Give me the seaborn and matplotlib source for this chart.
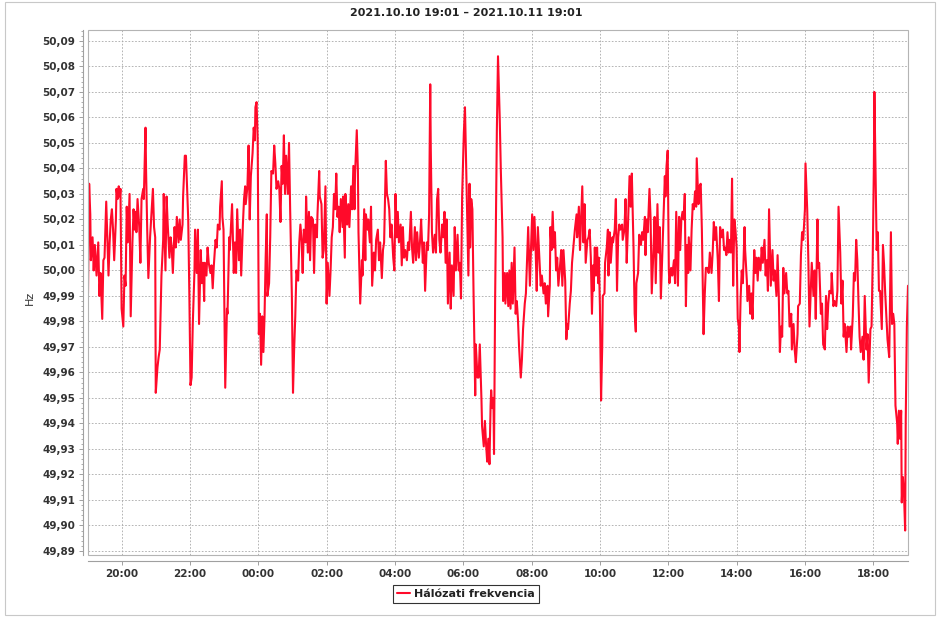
import pandas as pd
import matplotlib
matplotlib.use("Agg")
import matplotlib.pyplot as plt
import matplotlib.dates as mdates
from matplotlib.ticker import MultipleLocator, AutoMinorLocator, FuncFormatter
from matplotlib.patches import Rectangle
import seaborn as sns

# Grid frequency: minutes after 2021.10.10 19:01 and Hz
# 19:01 - 23:00
min_1 = [0, 2, 4, 5, 8, 10, 12, 15, 18, 20, 22, 25, 27, 29, 32, 34, 36, 38, 40, 42,
         44, 46, 49, 50, 52, 54, 56, 57, 59, 62, 64, 66, 68, 70, 73, 75, 78, 80, 82, 84,
         85, 87, 90, 92, 94, 97, 98, 101, 102, 104, 106, 109, 112, 114, 116, 118, 119, 122, 124, 126,
         129, 132, 133, 136, 138, 140, 143, 145, 147, 149, 152, 154, 156, 159, 161, 163, 166, 167, 170, 172,
         174, 176, 178, 180, 182, 184, 187, 188, 191, 193, 195, 198, 200, 202, 204, 205, 208, 210, 212, 215,
         217, 219, 221, 224, 226, 228, 231, 232, 235, 236, 238]
hz_1 = [49.991, 50.034, 50.022, 50.004, 50.013, 50.000, 50.010, 49.998, 50.011, 49.990,
        49.999, 49.981, 50.004, 50.005, 50.027, 50.013, 49.998, 50.011, 50.020, 50.024,
        50.016, 50.004, 50.020, 50.032, 50.028, 50.033, 50.029, 50.032, 49.985, 49.978,
        49.998, 49.994, 50.025, 50.011, 50.030, 49.982, 50.011, 50.024, 50.016, 50.023,
        50.015, 50.028, 50.017, 50.003, 50.028, 50.032, 50.028, 50.056, 50.039, 50.016,
        49.997, 50.013, 50.024, 50.032, 50.017, 50.013, 49.952, 49.962, 49.966, 49.969,
        49.998, 50.012, 50.030, 50.000, 50.029, 50.018, 50.005, 50.013, 50.009, 49.999,
        50.017, 50.009, 50.021, 50.011, 50.020, 50.012, 50.018, 50.029, 50.045, 50.045,
        50.033, 50.020, 49.990, 49.955, 49.958, 49.979, 50.000, 50.016, 49.999, 50.016,
        49.979, 50.008, 49.995, 50.003, 49.988, 50.003, 49.998, 50.009, 50.003, 49.999,
        50.002, 49.993, 50.002, 50.012, 50.009, 50.018, 50.016, 50.025, 50.035, 50.021,
        50.016]

# 23:00 - 02:55
min_2 = [241, 244, 245, 248, 249, 251, 253, 256, 258, 260, 262, 265, 267, 269, 272, 274, 276, 277, 280, 282,
         284, 286, 287, 289, 291, 293, 294, 296, 298, 300, 302, 304, 306, 308, 310, 312, 314, 315, 318, 320,
         322, 325, 327, 329, 331, 334, 336, 338, 340, 342, 344, 346, 348, 351, 353, 355, 358, 360, 362, 364,
         366, 369, 371, 373, 375, 377, 379, 382, 383, 386, 388, 390, 392, 395, 397, 399, 402, 403, 406, 407,
         410, 412, 414, 417, 419, 421, 424, 426, 428, 430, 432, 434, 436, 438, 440, 442, 444, 447, 448, 451,
         452, 455, 457, 459, 462, 464, 466, 468, 469, 472, 474, 475]
hz_2 = [49.954, 49.985, 49.983, 50.013, 50.008, 50.017, 50.026, 49.999, 50.011, 49.999,
        50.024, 50.004, 50.016, 49.998, 50.018, 50.028, 50.033, 50.026, 50.033, 50.049,
        50.020, 50.037, 50.040, 50.046, 50.056, 50.051, 50.064, 50.066, 50.051, 49.975,
        49.983, 49.963, 49.982, 49.968, 49.982, 50.005, 50.022, 49.990, 49.995, 50.013,
        50.039, 50.038, 50.049, 50.042, 50.032, 50.035, 50.032, 50.019, 50.041, 50.034,
        50.053, 50.030, 50.045, 50.030, 50.050, 50.024, 49.990, 49.952, 49.969, 49.982,
        50.000, 49.996, 50.011, 50.018, 50.012, 49.999, 50.016, 50.011, 50.029, 50.007,
        50.023, 50.004, 50.021, 50.020, 49.999, 50.018, 50.013, 50.022, 50.039, 50.029,
        50.026, 50.005, 50.008, 50.033, 49.987, 50.003, 49.990, 50.000, 50.013, 50.017,
        50.030, 50.024, 50.038, 50.021, 50.025, 50.015, 50.028, 50.017, 50.029, 50.005,
        50.030, 50.018, 50.026, 50.017, 50.033, 50.024, 50.041, 50.024, 50.038, 50.055,
        50.039, 50.015]

# 03:00 - 06:55
min_3 = [478, 481, 482, 485, 487, 488, 491, 492, 495, 497, 499, 502, 504, 506, 509, 511, 513, 516, 518, 520,
         523, 525, 527, 529, 531, 533, 536, 538, 540, 542, 544, 546, 549, 551, 553, 555, 557, 560, 562, 564,
         567, 569, 571, 574, 576, 578, 581, 583, 585, 588, 590, 592, 595, 597, 599, 601, 602, 604, 606, 609,
         611, 613, 615, 617, 619, 622, 624, 626, 628, 630, 632, 635, 637, 639, 642, 644, 646, 649, 651, 653,
         655, 657, 660, 662, 664, 666, 668, 670, 671, 673, 675, 677, 680, 681, 684, 686, 688, 691, 692, 695,
         697, 699, 701, 703, 705, 707, 708, 710, 712, 713]
hz_3 = [49.987, 50.004, 49.998, 50.024, 50.004, 50.022, 50.016, 50.020, 50.011, 50.025,
        49.994, 50.007, 50.000, 50.012, 50.016, 50.004, 50.011, 49.997, 50.008, 50.011,
        50.043, 50.030, 50.028, 50.024, 50.013, 50.018, 50.005, 50.000, 50.030, 50.013,
        50.023, 50.011, 50.018, 50.002, 50.017, 50.005, 50.008, 50.004, 50.011, 50.008,
        50.023, 50.009, 50.003, 50.017, 50.004, 50.015, 50.005, 50.011, 50.020, 50.003,
        50.011, 49.992, 50.011, 50.008, 50.022, 50.073, 50.047, 50.015, 50.007, 50.014,
        50.007, 50.028, 50.032, 50.012, 50.007, 50.018, 50.013, 50.023, 50.003, 50.020,
        49.987, 50.007, 49.985, 50.002, 49.990, 50.017, 50.000, 50.014, 50.000, 50.003,
        49.989, 50.029, 50.054, 50.064, 50.042, 50.021, 49.998, 50.034, 50.009, 50.028,
        50.024, 49.992, 49.951, 49.971, 49.958, 49.958, 49.971, 49.949, 49.939, 49.931,
        49.941, 49.932, 49.925, 49.934, 49.924, 49.947, 49.953, 49.946, 49.950, 49.928]

# 06:55 - 10:50
min_4 = [715, 718, 720, 722, 723, 725, 728, 729, 732, 733, 736, 738, 740, 742, 744, 746, 749, 751, 753, 755,
         757, 760, 762, 764, 767, 769, 771, 773, 776, 778, 780, 782, 784, 786, 788, 790, 793, 795, 797, 800,
         802, 804, 807, 808, 811, 812, 814, 816, 818, 820, 822, 824, 826, 829, 831, 833, 835, 838, 840, 842,
         843, 846, 848, 850, 853, 855, 858, 859, 862, 864, 866, 868, 870, 872, 874, 877, 879, 881, 883, 885,
         887, 888, 890, 892, 894, 896, 897, 899, 901, 903, 904, 907, 908, 911, 913, 914, 916, 918, 921, 922,
         925, 927, 929, 931, 933, 935, 938, 939, 942, 944, 946, 948, 951]
hz_4 = [49.990, 50.055, 50.084, 50.068, 50.060, 50.039, 50.013, 49.988, 49.999, 49.987,
        49.999, 49.986, 50.000, 49.985, 50.003, 49.987, 50.009, 49.983, 49.988, 49.981,
        49.970, 49.958, 49.965, 49.977, 49.987, 49.991, 50.004, 50.017, 49.994, 50.009,
        50.022, 50.008, 50.021, 50.009, 49.992, 50.017, 50.003, 49.994, 49.998, 49.991,
        49.995, 49.987, 49.994, 49.982, 49.994, 50.017, 50.008, 50.023, 50.009, 50.015,
        50.000, 50.005, 49.994, 50.002, 50.008, 49.994, 50.008, 49.996, 49.973, 49.979,
        49.977, 49.987, 49.992, 50.003, 50.011, 50.016, 50.022, 50.013, 50.025, 50.008,
        50.021, 50.033, 50.011, 50.026, 50.003, 50.012, 50.013, 50.016, 50.005, 49.983,
        50.002, 49.992, 50.009, 49.998, 50.009, 49.995, 50.005, 49.986, 49.949, 49.970,
        49.990, 49.991, 50.003, 50.009, 50.016, 49.998, 50.015, 50.003, 50.013, 50.011,
        50.016, 50.028, 49.992, 50.013, 50.018, 50.016, 50.018, 50.012, 50.016, 50.028,
        50.003, 50.016, 50.037]

# 10:55 - 14:55
min_5 = [953, 955, 958, 960, 962, 963, 966, 968, 971, 973, 975, 978, 979, 981, 983, 986, 988, 990, 993, 995,
         997, 1000, 1002, 1004, 1006, 1009, 1011, 1013, 1014, 1016, 1018, 1020, 1021, 1024, 1026, 1029, 1031, 1033, 1036, 1038,
         1040, 1042, 1044, 1046, 1048, 1050, 1052, 1054, 1055, 1058, 1060, 1062, 1064, 1066, 1068, 1069, 1072, 1074, 1076, 1078,
         1081, 1083, 1085, 1088, 1090, 1092, 1095, 1097, 1099, 1101, 1103, 1106, 1108, 1110, 1113, 1115, 1117, 1119, 1121, 1123,
         1125, 1127, 1129, 1131, 1133, 1135, 1137, 1139, 1141, 1143, 1144, 1146, 1148, 1150, 1153, 1154, 1157, 1158, 1161, 1163,
         1165, 1167, 1170, 1172, 1174, 1176, 1178, 1181, 1183, 1185, 1188, 1190, 1192, 1194, 1196]
hz_5 = [50.025, 50.038, 50.009, 49.983, 49.976, 49.995, 49.999, 50.014, 50.010, 50.015,
        50.012, 50.021, 50.006, 50.020, 50.015, 50.032, 50.020, 49.991, 50.008, 50.021,
        49.995, 50.026, 50.007, 50.017, 49.989, 50.010, 50.024, 50.037, 50.029, 50.041,
        50.047, 50.000, 49.995, 50.001, 49.998, 50.004, 49.995, 50.023, 49.994, 50.021,
        50.008, 50.020, 50.023, 50.020, 50.030, 49.986, 50.010, 49.999, 50.013, 50.000,
        50.016, 50.026, 50.024, 50.031, 50.025, 50.044, 50.026, 50.033, 50.034, 50.016,
        49.975, 49.990, 50.001, 50.001, 49.999, 50.007, 49.999, 50.007, 50.019, 50.012,
        50.017, 50.004, 49.988, 50.017, 50.013, 50.016, 50.008, 50.009, 50.006, 50.015,
        50.007, 50.012, 50.007, 50.036, 49.994, 50.020, 50.016, 50.009, 49.981, 49.978,
        49.968, 49.989, 50.000, 49.995, 50.017, 50.008, 49.996, 49.988, 49.994, 49.983,
        49.991, 49.981, 50.008, 49.999, 50.005, 49.996, 50.005, 50.000, 50.009, 50.003,
        50.012, 49.998, 50.004, 49.992, 50.024]

# 15:00 - 19:01
min_6 = [1198, 1199, 1202, 1204, 1206, 1209, 1211, 1213, 1215, 1217, 1219, 1221, 1223, 1226, 1228, 1230, 1232, 1235, 1236, 1239,
         1241, 1243, 1246, 1247, 1250, 1252, 1254, 1256, 1259, 1260, 1263, 1265, 1267, 1269, 1271, 1274, 1276, 1278, 1281, 1282,
         1284, 1287, 1289, 1291, 1294, 1296, 1298, 1300, 1302, 1305, 1306, 1309, 1311, 1314, 1316, 1318, 1321, 1323, 1325, 1327,
         1329, 1332, 1334, 1336, 1339, 1340, 1343, 1345, 1347, 1349, 1351, 1353, 1355, 1357, 1360, 1362, 1364, 1367, 1369, 1371,
         1374, 1376, 1378, 1380, 1381, 1383, 1385, 1387, 1389, 1391, 1394, 1396, 1398, 1400, 1402, 1404, 1407, 1408, 1410, 1412,
         1414, 1416, 1418, 1421, 1422, 1424, 1426, 1428, 1429, 1431, 1433, 1435, 1436, 1438, 1440]
hz_6 = [50.003, 49.994, 50.008, 49.996, 50.000, 49.990, 50.006, 49.991, 49.968, 49.978,
        49.974, 50.001, 49.991, 49.999, 49.991, 49.992, 49.978, 49.983, 49.969, 49.979,
        49.969, 49.964, 49.975, 49.986, 49.987, 50.006, 50.015, 50.012, 50.024, 50.042,
        50.024, 50.004, 49.978, 49.991, 50.003, 49.990, 50.000, 49.981, 50.020, 50.001,
        50.003, 49.983, 49.987, 49.971, 49.969, 49.990, 49.977, 49.987, 49.992, 49.991,
        49.999, 49.986, 49.988, 49.986, 49.992, 50.025, 50.007, 49.987, 49.996, 49.974,
        49.979, 49.968, 49.978, 49.974, 49.978, 49.969, 49.982, 49.999, 49.996, 50.012,
        50.004, 49.988, 49.974, 49.968, 49.974, 49.965, 49.990, 49.969, 49.975, 49.956,
        49.977, 49.978, 50.004, 50.040, 50.070, 50.040, 50.008, 50.015, 49.992, 49.992,
        49.977, 50.010, 50.002, 49.991, 49.982, 49.973, 49.966, 49.981, 50.015, 49.979,
        49.983, 49.979, 49.947, 49.940, 49.932, 49.945, 49.934, 49.945, 49.909, 49.919,
        49.912, 49.898, 49.941, 49.978, 49.994]

start = pd.Timestamp("2021-10-10 19:01")
end = pd.Timestamp("2021-10-11 19:01")
title = "2021.10.10 19:01 \u2013 2021.10.11 19:01"
series_name = "Hálózati frekvencia"

minutes = min_1 + min_2 + min_3 + min_4 + min_5 + min_6
hz = hz_1 + hz_2 + hz_3 + hz_4 + hz_5 + hz_6
df = pd.DataFrame({"time": start + pd.to_timedelta(minutes, unit="min"), "hz": hz})

sns.set_style("white")
plt.rcParams["font.family"] = ["DejaVu Sans"]

W, H = 940, 621
fig = plt.figure(figsize=(W / 100, H / 100), dpi=100)
ax = fig.add_axes([88 / W, 1 - 555 / H, 820 / W, 525 / H])

sns.lineplot(data=df, x="time", y="hz", ax=ax, color="#ff0a2a", linewidth=1.5,
             label=series_name, estimator=None, sort=False)

ax.set_xlim(start, end)
ax.set_ylim(49.8884, 50.0943)

ax.xaxis.set_major_locator(mdates.HourLocator(byhour=range(0, 24, 2)))
ax.xaxis.set_major_formatter(mdates.DateFormatter("%H:%M"))
ax.yaxis.set_major_locator(MultipleLocator(0.01))
ax.yaxis.set_minor_locator(AutoMinorLocator(5))
ax.yaxis.set_major_formatter(FuncFormatter(lambda v, p: f"{v:.2f}".replace(".", ",")))

ax.grid(True, which="major", color="#a8a8a8", linestyle=(0, (2, 2)), linewidth=0.6)

axis_grey = "#a0a0a0"
for side in ["top", "right"]:
    ax.spines[side].set_visible(False)
ax.spines["left"].set_position(("outward", 3.8))
ax.spines["bottom"].set_position(("outward", 4.3))
for side in ["left", "bottom"]:
    ax.spines[side].set_color(axis_grey)
    ax.spines[side].set_linewidth(0.8)
# plot area frame
ax.add_patch(Rectangle((0, 0), 1, 1, transform=ax.transAxes, fill=False,
                       edgecolor="#b4b4b4", linewidth=0.8, clip_on=False, zorder=3))

ax.tick_params(axis="both", which="major", direction="out", length=3, width=0.7,
               color=axis_grey, labelsize=7.5, labelcolor="#333333", pad=2.5,
               left=True, bottom=True)
ax.tick_params(axis="y", which="minor", direction="out", length=1.6, width=0.6,
               color=axis_grey, left=True)
for lab in ax.get_xticklabels() + ax.get_yticklabels():
    lab.set_fontweight("bold")

ax.set_xlabel("")
ax.set_ylabel("Hz", fontsize=8, color="#333333")
ax.yaxis.set_label_coords(-0.0646, 0.49)

fig.text(466 / W, 1 - 13 / H, title, ha="center", va="center",
         fontsize=8, fontweight="bold", color="#222222")

ax.get_legend().remove()
leg = fig.legend(*ax.get_legend_handles_labels(), loc="center",
                 bbox_to_anchor=(466 / W, 1 - 594 / H), frameon=True, fancybox=False,
                 handlelength=1.1, handletextpad=0.4, borderpad=0.35,
                 prop={"size": 8, "weight": "bold"})
leg.get_frame().set_edgecolor("black")
leg.get_frame().set_linewidth(0.8)
for t in leg.get_texts():
    t.set_color("#222222")

# outer chart border
fig.patches.append(Rectangle((5 / W, 1 - 615 / H), 930 / W, 613 / H, transform=fig.transFigure,
                             fill=False, edgecolor="#c8c8c8", linewidth=0.8))

fig.savefig("out.png", dpi=100)
